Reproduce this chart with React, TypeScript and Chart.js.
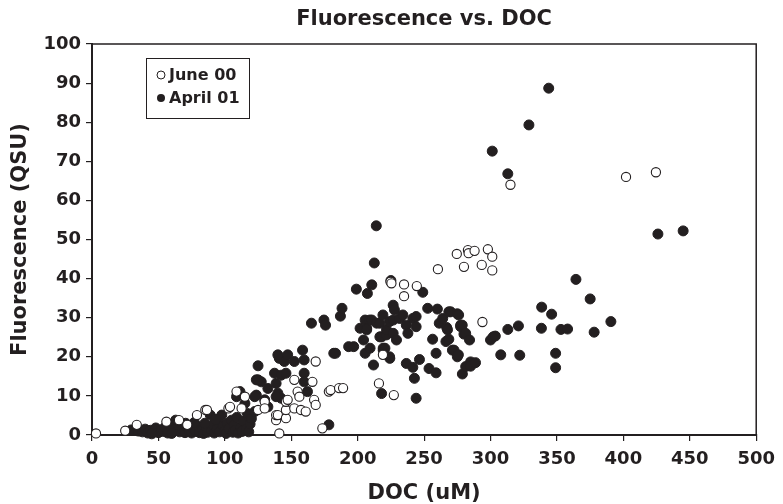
import React, { useEffect, useRef } from "react";
import { Chart, registerables } from "chart.js";

Chart.register(...registerables);

const titleText = "Fluorescence vs. DOC";
const xTitle = "DOC (uM)";
const yTitle = "Fluorescence (QSU)";
const seriesNames = ["June 00", "April 01"];
const xTicks = [0, 50, 100, 150, 200, 250, 300, 350, 400, 450, 500];
const yTicks = [0, 10, 20, 30, 40, 50, 60, 70, 80, 90, 100];

// June 00 (open circles): [DOC, Fluorescence]
const june00: [number, number][] = [
  [3, 0.4], [25, 1.1], [33.7, 2.6], [56, 3.4], [65.5, 3.8], [71.7, 2.6], [79, 5.1], [85.3, 6.4],
  [86.5, 6.4], [102.7, 6.8], [103.9, 7.2], [108.8, 11.1], [112.6, 6.8], [115.1, 9.8], [125, 6.4],
  [130, 8.5], [130, 6.8], [138.6, 3.8], [138.6, 5.1], [139.9, 5.1], [141, 0.4], [146, 4.3], [146, 6.4],
  [146, 8.5], [147.3, 9.0], [152.3, 6.8], [152.3, 14.1], [154.8, 11.1], [156.1, 9.8], [157.3, 6.4],
  [160.9, 6.0], [165.9, 13.6], [167.2, 9.0], [168.4, 7.7], [168.4, 18.8], [173.4, 1.7], [178.3, 11.1],
  [179.6, 11.5], [186, 12.0], [189, 12.0], [216, 13.2], [219, 20.5], [227.2, 10.2], [224.7, 39.2],
  [225.4, 38.8], [234.9, 38.5], [234.9, 35.5], [244.5, 38.1], [260.4, 42.4], [274.6, 46.3], [280, 43.0],
  [283, 47.3], [283.5, 46.5], [288, 47.1], [293.4, 43.5], [293.9, 28.9], [298, 47.5], [301.3, 45.6],
  [301.3, 42.1], [315, 64.0], [402, 66.0], [424.5, 67.2],
];

// April 01 (filled circles): [DOC, Fluorescence]
const april01: [number, number][] = [
  [29.5, 1.3], [35, 1.0], [38, 0.8], [40, 1.5], [42, 0.5], [44, 1.2], [46, 0.7], [48, 1.8],
  [50, 0.6], [52, 1.3], [54, 0.9], [55, 2.0], [57, 0.5], [59.3, 2.1], [61, 1.1], [63, 3.8],
  [64, 1.6], [66, 0.8], [68, 1.4], [70, 0.6], [71, 2.2], [73, 1.0], [75, 0.5], [76, 1.7],
  [78, 0.9], [80.4, 2.1], [81, 0.6], [83, 1.3], [84, 0.4], [86, 1.9], [87, 0.7], [89, 5.1],
  [90, 1.2], [91, 2.6], [92, 0.5], [94, 1.5], [95.2, 3.8], [96, 0.8], [97.7, 5.1], [99, 2.2],
  [100, 1.0], [101, 0.4], [102, 3.0], [103, 1.6], [105.1, 3.8], [106, 0.7], [107, 2.4], [108, 1.3],
  [109, 4.5], [110, 0.5], [111.4, 11.1], [112, 2.0], [113, 0.9], [114, 3.5], [115.1, 8.1], [116, 1.5],
  [117, 5.5], [118, 0.8], [119, 2.8], [120, 4.2], [70.5, 3.0], [65, 2.5], [60, 0.4], [45, 0.3],
  [77, 3.2], [85, 3.0], [93, 4.0],
  [122.5, 6.0], [123.7, 10.2], [123.7, 14.1], [125, 17.7], [127.4, 13.6], [132.4, 11.9], [132.4, 7.2],
  [137.4, 15.8], [138.6, 13.2], [139.9, 10.7], [141, 19.6], [142.4, 15.3], [142.4, 9.4], [144.8, 18.8],
  [108.8, 9.8], [130, 9.0], [138.6, 9.8], [122.5, 9.8], [125, 14.1],
  [139.9, 20.5], [147.3, 20.5], [158.5, 21.7], [159.7, 19.2], [182, 20.9], [152.3, 18.8], [146, 15.8],
  [159.7, 15.8], [159.7, 13.6], [162.2, 11.1], [178.3, 2.6],
  [165.2, 28.6], [174.6, 29.4], [175.8, 28.1], [183.3, 20.9], [187, 30.4], [188.2, 32.4], [193.2, 22.6],
  [197, 22.6], [199, 37.3], [201.8, 27.3], [204.4, 24.3], [205.6, 20.9], [205.6, 29.4], [206.8, 27.3],
  [206.8, 26.9], [207.3, 36.2], [209, 29.4], [209.3, 22.2], [210.6, 38.4], [210.6, 29.4], [211.9, 17.9],
  [212.5, 44.0], [214, 53.5], [214.3, 28.6], [216.7, 28.6], [216.7, 25.1], [218, 25.1], [218, 10.6],
  [219, 30.7], [219.2, 22.2], [219.2, 21.7], [220.5, 22.2], [221.7, 25.6], [221.7, 26.9], [224, 29.0],
  [224, 20.0], [224.2, 19.6], [225, 39.5], [226.7, 33.2], [226.7, 29.4], [226.7, 26.0], [227.7, 32.0],
  [229.2, 24.3], [231.6, 29.8], [234, 30.7], [236.6, 28.1], [236.6, 18.3], [237.8, 26.0], [241.5, 29.8],
  [241.5, 17.3], [242.7, 14.5], [244, 27.7], [244, 30.3], [244, 9.4], [246.5, 19.3], [249, 36.5],
  [252.7, 32.4], [253.7, 17.0], [256.4, 24.5], [259, 20.9], [259, 15.9], [260, 32.2], [261.4, 28.6],
  [264, 29.8], [266.4, 23.9], [267, 27.5], [267.6, 26.9], [268.6, 24.5], [268.6, 31.5], [270, 31.5],
  [271.3, 21.7], [272.5, 21.7], [275, 31.0], [275, 20.0], [275.8, 20.5], [276, 30.7], [277.5, 28.1],
  [277.5, 27.7], [278.7, 28.1], [278.8, 15.6], [280, 25.8], [281.3, 26.0], [281.3, 17.5], [284.2, 24.3],
  [285, 18.7], [285, 17.6], [288.7, 18.5], [300, 24.3], [302, 25.1], [303.6, 25.3], [307.7, 20.5],
  [313, 27.0], [321, 27.9], [322, 20.4], [338.5, 32.7], [338.3, 27.3], [346, 30.9], [349, 20.9],
  [349, 17.2], [353, 27.0], [358, 27.1], [364.3, 39.8], [375, 34.8], [378, 26.3], [390.6, 29.0],
  [301.3, 72.6], [313, 66.8], [328.9, 79.3], [343.8, 88.7], [426, 51.4], [445, 52.2],
];

const INK = "#231f20";
const FONT = "'DejaVu Sans', Verdana, sans-serif";

export default function App() {
  const ref = useRef<HTMLCanvasElement>(null);
  useEffect(() => {
    document.body.style.margin = "0";
    const canvas = ref.current;
    if (!canvas) return;

    const decor = {
      id: "decor",
      afterDraw(chart: any) {
        const { ctx, chartArea } = chart;
        const { left, right, top, bottom } = chartArea;
        ctx.save();
        // frame top & right
        ctx.strokeStyle = INK;
        ctx.lineWidth = 1.5;
        ctx.beginPath();
        ctx.moveTo(left, top);
        ctx.lineTo(right, top);
        ctx.lineTo(right, bottom);
        ctx.stroke();
        // title
        ctx.fillStyle = INK;
        ctx.font = `bold 21px ${FONT}`;
        ctx.textAlign = "center";
        ctx.textBaseline = "middle";
        ctx.fillText(titleText, (left + right) / 2, 20);
        // legend
        const lx = left + 54, ly = top + 14, lw = 103, lh = 60;
        ctx.fillStyle = "#ffffff";
        ctx.fillRect(lx, ly, lw, lh);
        ctx.lineWidth = 1;
        ctx.strokeStyle = INK;
        ctx.strokeRect(lx + 0.5, ly + 0.5, lw, lh);
        ctx.font = `bold 16px ${FONT}`;
        ctx.textAlign = "left";
        ctx.textBaseline = "middle";
        const rows = [ly + 17, ly + 40];
        rows.forEach((yy, i) => {
          ctx.beginPath();
          ctx.arc(lx + 15, yy, 4, 0, Math.PI * 2);
          if (i === 0) {
            ctx.fillStyle = "#fff";
            ctx.fill();
            ctx.lineWidth = 1;
            ctx.strokeStyle = INK;
            ctx.stroke();
          } else {
            ctx.fillStyle = INK;
            ctx.fill();
          }
          ctx.fillStyle = INK;
          ctx.fillText(seriesNames[i], lx + 23, yy + 1);
        });
        ctx.restore();
      },
    };

    const chart = new Chart(canvas, {
      type: "scatter",
      data: {
        datasets: [
          {
            label: seriesNames[0],
            data: june00.map(([x, y]) => ({ x, y })),
            pointRadius: 4.6,
            backgroundColor: "#ffffff",
            borderColor: INK,
            borderWidth: 1.1,
            clip: false as any,
          },
          {
            label: seriesNames[1],
            data: april01.map(([x, y]) => ({ x, y })),
            pointRadius: 5,
            backgroundColor: INK,
            borderColor: INK,
            borderWidth: 1,
            clip: false as any,
          },
        ],
      },
      options: {
        animation: false,
        responsive: false,
        maintainAspectRatio: false,
        layout: { padding: { top: 44, right: 19, left: 0, bottom: 0 } },
        plugins: {
          legend: { display: false },
          title: { display: false },
          tooltip: { enabled: false },
        },
        scales: {
          x: {
            type: "linear",
            min: 0,
            max: 500,
            afterBuildTicks: (s: any) => {
              s.ticks = xTicks.map((v) => ({ value: v }));
            },
            afterFit: (s: any) => {
              s.height = 69;
            },
            ticks: {
              color: INK,
              font: { family: FONT, size: 18, weight: "bold" },
              padding: 8,
              maxRotation: 0,
              autoSkip: false,
            },
            grid: { drawOnChartArea: false, drawTicks: true, tickLength: 6, color: INK, lineWidth: 1.2 },
            border: { color: INK, width: 2 },
            title: {
              display: true,
              text: xTitle,
              color: INK,
              font: { family: FONT, size: 21, weight: "bold", lineHeight: 1 },
              padding: { top: 0, bottom: 0 },
            },
          },
          y: {
            type: "linear",
            min: 0,
            max: 100,
            afterBuildTicks: (s: any) => {
              s.ticks = yTicks.map((v) => ({ value: v }));
            },
            afterFit: (s: any) => {
              s.width = 92;
            },
            ticks: {
              color: INK,
              font: { family: FONT, size: 18, weight: "bold" },
              padding: 5,
              autoSkip: false,
            },
            grid: { drawOnChartArea: false, drawTicks: true, tickLength: 6, color: INK, lineWidth: 1.2 },
            border: { color: INK, width: 2 },
            title: {
              display: true,
              text: yTitle,
              color: INK,
              font: { family: FONT, size: 21, weight: "bold", lineHeight: 1 },
              padding: { top: 10, bottom: 0 },
            },
          },
        },
      },
      plugins: [decor],
    } as any);
    return () => chart.destroy();
  }, []);

  return (
    <div style={{ width: 783, height: 504, background: "#fff" }}>
      <canvas ref={ref} width={783} height={504} style={{ display: "block" }} />
    </div>
  );
}
